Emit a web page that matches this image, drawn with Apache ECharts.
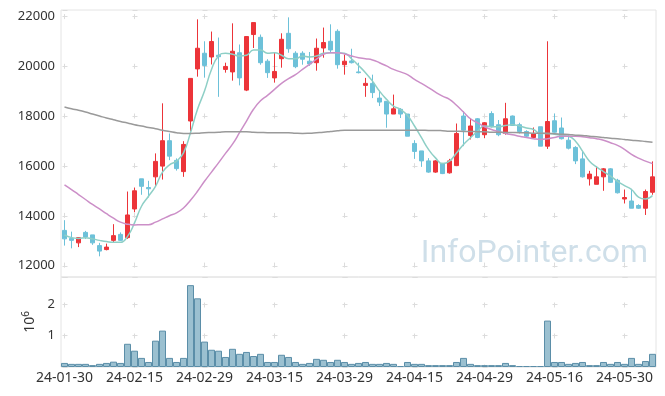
<!DOCTYPE html>
<html>
<head>
<meta charset="utf-8">
<script src="https://cdn.jsdelivr.net/npm/echarts@6/dist/echarts.min.js"></script>
<style>
html,body{margin:0;padding:0;background:#fff;}
#c{width:665px;height:396px;}
</style>
</head>
<body>
<div id="c"></div>
<script>
var dates = ['24-01-30','24-01-31','24-02-01','24-02-02','24-02-05','24-02-06','24-02-07','24-02-08','24-02-13','24-02-14',
'24-02-15','24-02-16','24-02-19','24-02-20','24-02-21','24-02-22','24-02-23','24-02-26','24-02-27','24-02-28',
'24-02-29','24-03-04','24-03-05','24-03-06','24-03-07','24-03-08','24-03-11','24-03-12','24-03-13','24-03-14',
'24-03-15','24-03-18','24-03-19','24-03-20','24-03-21','24-03-22','24-03-25','24-03-26','24-03-27','24-03-28',
'24-03-29','24-04-01','24-04-02','24-04-03','24-04-04','24-04-05','24-04-08','24-04-09','24-04-11','24-04-12',
'24-04-15','24-04-16','24-04-17','24-04-18','24-04-19','24-04-22','24-04-23','24-04-24','24-04-25','24-04-26',
'24-04-29','24-04-30','24-05-02','24-05-03','24-05-07','24-05-08','24-05-09','24-05-10','24-05-13','24-05-14',
'24-05-16','24-05-17','24-05-20','24-05-21','24-05-22','24-05-23','24-05-24','24-05-27','24-05-28','24-05-29',
'24-05-30','24-05-31','24-06-03','24-06-04','24-06-05'];

var openP = [13420,13100,12920,13340,13240,12810,12650,13020,13260,13130,
14280,15490,15140,15570,16000,17020,16230,15780,17810,19900,
20530,20380,20450,19880,19780,20550,19050,21280,21170,20210,
19540,20310,21330,20530,20530,20210,20150,20740,21010,21410,
20070,20220,19780,19240,19320,18730,18600,18090,18280,18090,
16910,16610,16210,15760,16100,15730,16020,18010,17230,17900,
17260,18110,17660,17310,18010,17660,17390,17150,17580,16800,
17820,17530,17040,16750,16290,15490,15270,15570,15890,15430,
14680,14600,14420,14310,14950];
var closeP = [13080,13020,13130,13160,12920,12590,12750,13210,13020,14040,
15010,15190,15090,16190,17020,16400,15900,16870,19520,20730,
20040,21000,20390,20000,20610,19540,21200,21760,20150,19750,
19800,21090,20710,19990,20290,20100,20730,20960,20660,20070,
20210,20150,19750,19320,18950,18570,18090,18300,18090,17200,
16590,16210,15760,16210,15700,16210,17310,17440,17610,17150,
17740,17580,17260,17900,17630,17390,17200,17310,16800,17790,
17360,17100,16720,16210,15570,15680,15570,15890,15350,14930,
14740,14310,14310,14980,15570];
var lowP = [12810,12700,12750,13080,12840,12380,12620,12920,13000,13080,
14150,14850,14740,15170,15460,16240,15820,15570,17400,19590,
19550,20080,18780,19750,19430,19240,19010,20740,20070,19540,
19350,19950,20550,19930,20070,20020,19830,20350,20550,19910,
19670,20120,19720,18780,18730,18410,17540,18090,17930,17200,
16290,15970,15730,15730,15680,15700,16000,16800,17070,17120,
17120,17550,17200,17260,17610,17310,17150,17120,16800,16690,
17340,17070,16670,16080,15540,15220,15270,15010,15330,14900,
14500,14310,14280,14040,14850];
var highP = [13830,13370,13130,13400,13240,12920,12890,13670,13340,14980,
15140,15490,15410,16510,18520,17310,16310,17000,19520,21890,
21010,21400,21160,20150,21730,20880,21220,21760,21280,20290,
20550,21330,21970,20610,20610,20580,21120,21560,21690,21490,
20470,20710,20150,19540,19670,19030,18600,18870,18330,18090,
17040,16610,16320,16240,16130,16290,17710,18200,17930,17930,
17770,18200,17850,18540,18030,17740,17440,17550,17580,21010,
18110,17950,17230,16800,16610,15810,16000,15920,15920,15490,
15060,15090,14470,15060,16190];

var ma5 = [13240,13130,13100,13130,13080,13020,12970,12940,12940,13180,
13720,14390,14790,15190,15760,16050,16200,16530,17340,18280,
19010,19880,20420,20530,20490,20420,20450,20660,20660,20530,
20550,20450,20310,20310,20420,20380,20420,20530,20550,20550,
20530,20310,20040,19750,19410,19010,18680,18410,18280,18030,
17610,17140,16670,16330,16100,16200,16530,16870,17140,17400,
17610,17580,17580,17630,17660,17610,17530,17470,17310,17310,
17280,17230,17200,17000,16600,16200,15970,15780,15600,15390,
15220,15060,14760,14680,14820];
var ma20 = [15250,15060,14860,14660,14460,14280,14090,13910,13750,13670,
13640,13650,13650,13750,13880,14010,14120,14320,14630,14990,
15390,15760,16130,16510,16880,17340,17810,18280,18620,18840,
19080,19320,19510,19670,19880,20080,20290,20490,20550,20550,
20500,20420,20350,20310,20260,20150,20020,19880,19780,19670,
19480,19320,19150,18970,18810,18680,18440,18170,17900,17740,
17580,17470,17390,17310,17260,17200,17150,17100,17070,17100,
17150,17200,17200,17200,17180,17140,17100,17040,16940,16830,
16670,16470,16320,16200,16100];
var ma120 = [18370,18300,18240,18170,18090,18010,17930,17860,17790,17730,
17660,17610,17550,17500,17440,17390,17340,17310,17310,17320,
17340,17350,17360,17380,17380,17380,17380,17360,17350,17340,
17340,17340,17340,17320,17310,17320,17340,17360,17390,17420,
17440,17440,17440,17440,17440,17440,17440,17440,17440,17440,
17440,17440,17430,17430,17420,17400,17400,17390,17390,17380,
17380,17360,17360,17350,17350,17340,17340,17320,17320,17310,
17300,17280,17270,17240,17230,17200,17180,17150,17120,17100,
17070,17040,17020,16990,16960];

var volume = [0.13,0.10,0.10,0.10,0.06,0.10,0.13,0.17,0.13,0.74,
0.52,0.29,0.16,0.84,1.16,0.29,0.16,0.29,2.61,2.19,
0.81,0.55,0.52,0.32,0.58,0.42,0.48,0.35,0.42,0.16,
0.16,0.39,0.32,0.16,0.10,0.13,0.26,0.23,0.16,0.23,
0.16,0.10,0.13,0.16,0.10,0.10,0.13,0.10,0.03,0.16,
0.10,0.10,0.06,0.06,0.06,0.06,0.16,0.29,0.10,0.06,
0.06,0.06,0.06,0.13,0.06,0.03,0.03,0.03,0.03,1.48,
0.16,0.16,0.10,0.13,0.16,0.06,0.06,0.16,0.10,0.16,
0.10,0.29,0.10,0.19,0.42];

var priceMin = 11550, priceMax = 22265;
var volMax = 2.87;

var ohlc = dates.map(function (d, i) { return [openP[i], closeP[i], lowP[i], highP[i]]; });

var FONT = 'Noto Sans';
var labelColor = '#333';
var crossColor = '#dcdcdc';

var chart = echarts.init(document.getElementById('c'), null, {renderer: 'canvas'});
chart.setOption({
  animation: false,
  backgroundColor: '#fff',
  textStyle: {fontFamily: FONT},
  grid: [
    {left: 61, top: 10, width: 595, height: 267, show: true, borderColor: '#e4e4e4', borderWidth: 1},
    {left: 61, top: 277, width: 595, height: 90, show: true, borderColor: '#e4e4e4', borderWidth: 1}
  ],
  xAxis: [
    {type: 'category', data: dates, gridIndex: 0, boundaryGap: true,
     axisLine: {show: false}, axisTick: {show: false}, axisLabel: {show: false},
     splitLine: {show: true, interval: 9, alignWithLabel: true,
       lineStyle: {color: crossColor, width: 1, type: [5, 44.7], dashOffset: -4.1}}},
    {type: 'category', data: dates, gridIndex: 1, boundaryGap: true,
     axisLine: {show: false}, axisTick: {show: false},
     axisLabel: {interval: 9, color: labelColor, fontSize: 14, fontFamily: FONT, margin: 4},
     splitLine: {show: true, interval: 9, alignWithLabel: true,
       lineStyle: {color: crossColor, width: 1, type: [5, 26], dashOffset: -25.5}}}
  ],
  yAxis: [
    {type: 'value', gridIndex: 0, min: priceMin, max: priceMax, scale: true,
     axisLine: {show: false}, axisTick: {show: false},
     axisLabel: {color: labelColor, fontSize: 13, fontFamily: FONT, margin: 6, showMinLabel: false, showMaxLabel: false,
       formatter: function (v) { return String(v); }},
     splitLine: {show: true, lineStyle: {color: crossColor, width: 1, type: [5, 65], dashOffset: -1.5}}},
    {type: 'value', gridIndex: 1, min: 0, max: volMax, interval: 1,
     axisLine: {show: false}, axisTick: {show: false},
     axisLabel: {color: labelColor, fontSize: 13, fontFamily: FONT, margin: 6, showMinLabel: false, showMaxLabel: false,
       formatter: function (v) { return String(v); }},
     splitLine: {show: true, lineStyle: {color: crossColor, width: 1, type: [5, 65], dashOffset: -1.5}},
     name: '{b|10}{s|6}', nameLocation: 'middle', nameRotate: 90, nameGap: 19,
     nameTextStyle: {color: labelColor, fontFamily: FONT,
       rich: {b: {fontSize: 14, fontFamily: FONT, color: labelColor, lineHeight: 18},
              s: {fontSize: 10, fontFamily: FONT, color: labelColor, verticalAlign: 'top', lineHeight: 12}}}}
  ],
  graphic: [{
    type: 'text', right: 17, top: 238, z: 0,
    style: {text: 'InfoPointer.com', fill: '#cfdfe9', font: '32px Roboto'}
  }],
  series: [
    {name: 'price', type: 'candlestick', xAxisIndex: 0, yAxisIndex: 0, data: ohlc, barWidth: 5,
     itemStyle: {color: '#ec3439', color0: '#6dc1d9', borderColor: '#ec3439', borderColor0: '#6dc1d9', borderWidth: 1}},
    {name: 'MA5', type: 'line', xAxisIndex: 0, yAxisIndex: 0, data: ma5, smooth: true, showSymbol: false,
     lineStyle: {color: '#8ecfc6', width: 1.5}},
    {name: 'MA20', type: 'line', xAxisIndex: 0, yAxisIndex: 0, data: ma20, smooth: true, showSymbol: false,
     lineStyle: {color: '#cc8fc8', width: 1.5}},
    {name: 'MA120', type: 'line', xAxisIndex: 0, yAxisIndex: 0, data: ma120, smooth: true, showSymbol: false,
     lineStyle: {color: '#9a9a9a', width: 1.5}},
    {name: 'volume', type: 'bar', xAxisIndex: 1, yAxisIndex: 1, data: volume, barCategoryGap: '0%',
     itemStyle: {color: '#9bc0d0', borderColor: '#5b8ea8', borderWidth: 1}}
  ]
});
</script>
</body>
</html>
